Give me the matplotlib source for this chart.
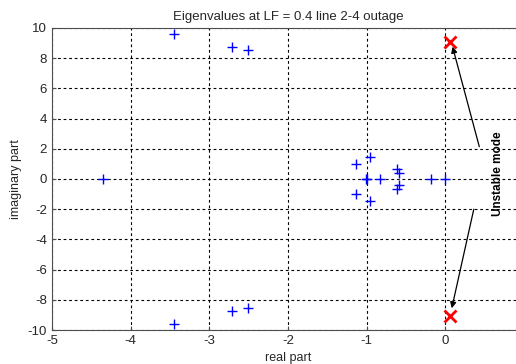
import matplotlib
matplotlib.use("Agg")
import matplotlib.pyplot as plt

plt.rcParams["font.family"] = ["Liberation Sans", "DejaVu Sans"]
plt.rcParams["axes.unicode_minus"] = False

# stable eigenvalues (blue +)
real_stable = [-4.35, -3.45, -3.45, -2.71, -2.71, -2.51, -2.51,
               -1.14, -1.14, -0.96, -0.96, -1.0, -1.01, -0.83,
               -0.61, -0.61, -0.585, -0.585, -0.18, -0.01]
imag_stable = [0.0, 9.6, -9.6, 8.77, -8.77, 8.52, -8.52,
               0.99, -0.99, 1.45, -1.45, 0.0, 0.0, 0.0,
               0.66, -0.66, 0.42, -0.42, 0.0, 0.0]

# unstable mode (red x)
real_unstable = [0.06, 0.06]
imag_unstable = [9.1, -9.1]

xticks = [-5, -4, -3, -2, -1, 0]
yticks = [-10, -8, -6, -4, -2, 0, 2, 4, 6, 8, 10]

fig = plt.figure(figsize=(5.16, 3.64), dpi=100)
ax = fig.add_axes([0.1008, 0.0934, 0.915, 0.8297])

ax.plot(real_stable, imag_stable, "+", color="#0000ff", markersize=7, markeredgewidth=1.0)
ax.plot(real_unstable, imag_unstable, "x", color="#ff0000", markersize=8, markeredgewidth=2.0)

ax.set_xlim(-5, 1)
ax.set_ylim(-10, 10)
ax.set_xticks(xticks)
ax.set_yticks(yticks)
ax.tick_params(direction="in", length=3, labelsize=9.5, color="0.3", labelcolor="0.15")
ax.grid(True, color="black", linestyle=(0, (2.5, 2.5)), linewidth=0.8)
for s in ax.spines.values():
    s.set_color("0.3")

ax.set_title("Eigenvalues at LF = 0.4 line 2-4 outage", fontsize=9.5, pad=6, color="0.15")
ax.set_xlabel("real part", fontsize=9, labelpad=4, color="0.15")
ax.set_ylabel("imaginary part", fontsize=9, labelpad=4, color="0.15")

ax.annotate("", xy=(0.09, 8.76), xytext=(0.43, 2.14),
            arrowprops=dict(arrowstyle="-|>", color="black", lw=0.9, mutation_scale=9, shrinkA=0, shrinkB=0))
ax.annotate("", xy=(0.08, -8.56), xytext=(0.36, -2.0),
            arrowprops=dict(arrowstyle="-|>", color="black", lw=0.9, mutation_scale=9, shrinkA=0, shrinkB=0))
ax.text(0.67, 0.33, "Unstable mode", rotation=90, ha="center", va="center",
        fontsize=8.5, fontweight="bold")

fig.savefig("out.png", dpi=100)
